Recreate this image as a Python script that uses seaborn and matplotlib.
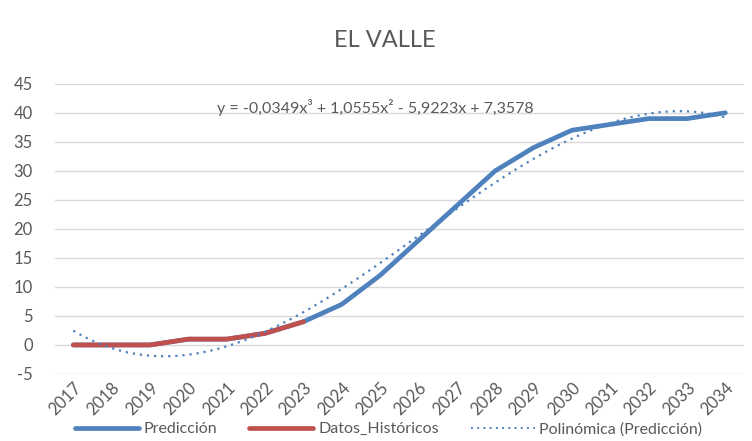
import numpy as np
import pandas as pd
import matplotlib
matplotlib.use("Agg")
import matplotlib.pyplot as plt
import seaborn as sns
from matplotlib.lines import Line2D

years = [2017, 2018, 2019, 2020, 2021, 2022, 2023, 2024, 2025,
         2026, 2027, 2028, 2029, 2030, 2031, 2032, 2033, 2034]
prediccion = [0, 0, 0, 1, 1, 2, 4, 7, 12, 18, 24, 30, 34, 37, 38, 39, 39, 40]
historicos = [0, 0, 0, 1, 1, 2, 4]
# cubic trend coefficients (x = 1..n), highest power first
poly_coef = [-0.0349, 1.0555, -5.9223, 7.3578]
y_ticks = [-5, 0, 5, 10, 15, 20, 25, 30, 35, 40, 45]

sns.set_theme(style="white")
plt.rcParams["font.family"] = ["Lato", "DejaVu Sans"]

BLUE = "#4F81BD"
RED = "#C0504D"
GREY = "#595959"

pos = np.arange(len(years))
df_pred = pd.DataFrame({"pos": pos, "valor": prediccion})
df_hist = pd.DataFrame({"pos": pos[:len(historicos)], "valor": historicos})

# smooth trend curve evaluated over the category positions
xs = np.linspace(1, len(years), 300)
df_trend = pd.DataFrame({"pos": xs - 1, "valor": np.polyval(poly_coef, xs)})

fig = plt.figure(figsize=(7.52, 4.41), dpi=100)
ax = fig.add_axes([0.073, 0.152, 0.916, 0.658])

sns.lineplot(data=df_pred, x="pos", y="valor", ax=ax, color=BLUE, lw=3.4,
             solid_capstyle="round", solid_joinstyle="round")
sns.lineplot(data=df_hist, x="pos", y="valor", ax=ax, color=RED, lw=3.4,
             solid_capstyle="round", solid_joinstyle="round")
sns.lineplot(data=df_trend, x="pos", y="valor", ax=ax, color=BLUE, lw=1.6,
             linestyle=(0, (1, 2.2)))

ax.set_xlim(-0.48, len(years) - 0.52)
ax.set_ylim(-5, 45)
ax.set_yticks(y_ticks)
ax.set_yticklabels([str(t) for t in y_ticks], fontsize=12, color=GREY)
ax.set_xticks(pos)
ax.set_xticklabels([str(y) for y in years], rotation=45, ha="right",
                   rotation_mode="anchor", fontsize=12, color=GREY)
ax.tick_params(axis="x", pad=4, length=0)
ax.tick_params(axis="y", pad=16, length=0)
ax.set_xlabel("")
ax.set_ylabel("")
ax.grid(axis="y", color="#D9D9D9", lw=1)
ax.set_axisbelow(True)
for s in ax.spines.values():
    s.set_visible(False)

fig.text(0.512, 0.908, "EL VALLE", ha="center", va="center",
         fontsize=17, color=GREY)
ax.text(0.235, 0.92,
        "y = -0,0349x³ + 1,0555x² - 5,9223x + 7,3578",
        transform=ax.transAxes, ha="left", va="center",
        fontsize=11.5, color=GREY)

handles = [
    Line2D([], [], color=BLUE, lw=3.4),
    Line2D([], [], color=RED, lw=3.4),
    Line2D([], [], color=BLUE, lw=1.4, linestyle=(0, (1, 2.2))),
]
labels = ["Predicción", "Datos_Históricos", "Polinómica (Predicción)"]
fig.legend(handles, labels, loc="center", bbox_to_anchor=(0.517, 0.027),
           ncol=3, frameon=False, fontsize=11.5, handlelength=4,
           handletextpad=0.3, columnspacing=2.0, labelcolor=GREY)

fig.savefig("out.png", dpi=100)
